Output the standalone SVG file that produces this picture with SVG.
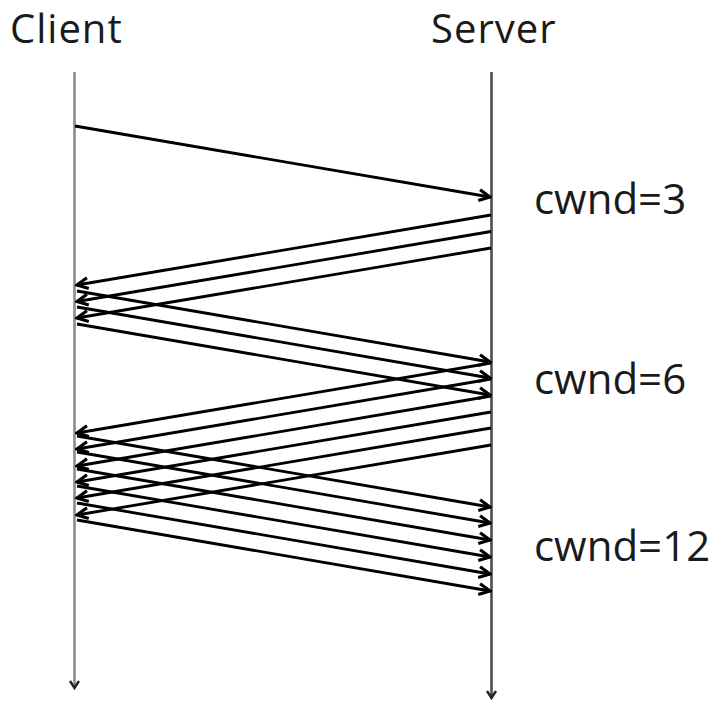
<svg xmlns="http://www.w3.org/2000/svg" width="716" height="701" viewBox="0 0 716 701">
  <style>
    .label { font-family: "Open Sans", "Liberation Sans", sans-serif; font-size: 40px; fill: #1a1a1a; }
    .title { letter-spacing: 1px; }
    .cwnd { font-size: 42px; }
    .msg { stroke: #000; stroke-width: 2.8; fill: none; marker-end: url(#head); }
    .life-client { stroke: #8c8c8c; stroke-width: 2.6; fill: none; marker-end: url(#lifehead); }
    .life-server { stroke: #4d4d4d; stroke-width: 2.6; fill: none; marker-end: url(#lifehead); }
  </style>
  <defs>
    <marker id="head" viewBox="-14 -8 16 16" markerWidth="16" markerHeight="16" refX="0" refY="0" orient="auto" markerUnits="userSpaceOnUse">
      <path d="M-11,-5.5 L0,0 L-11,5.5" fill="none" stroke="#000" stroke-width="3.2" stroke-linejoin="miter"/>
    </marker>
    <marker id="lifehead" viewBox="-10 -6 12 12" markerWidth="12" markerHeight="12" refX="0" refY="0" orient="auto" markerUnits="userSpaceOnUse">
      <path d="M-7,-4.5 L0,0 L-7,4.5" fill="none" stroke="#222" stroke-width="2.4"/>
    </marker>
  </defs>

  <rect width="716" height="701" fill="#fff"/>

  <!-- Client lifeline -->
  <g id="client">
    <text class="label title" x="10" y="43">Client</text>
    <line class="life-client" x1="74.5" y1="72" x2="74.5" y2="688"/>
  </g>

  <!-- Server lifeline -->
  <g id="server">
    <text class="label title" x="431" y="43">Server</text>
    <line class="life-server" x1="491.5" y1="72" x2="491.5" y2="698"/>
  </g>

  <!-- Congestion window annotations -->
  <g id="cwnd-labels">
    <text class="label cwnd" x="534" y="214">cwnd=3</text>
    <text class="label cwnd" x="534" y="394">cwnd=6</text>
    <text class="label cwnd" x="534" y="561">cwnd=12</text>
  </g>

  <!-- Messages -->
  <g id="connectors">
    <!-- request -->
    <line class="msg" x1="75" y1="126" x2="490" y2="197"/>

    <!-- first flight: 3 segments -->
    <line class="msg" x1="491" y1="215" x2="77" y2="285"/>
    <line class="msg" x1="491" y1="231.5" x2="77" y2="301.5"/>
    <line class="msg" x1="491" y1="248" x2="77" y2="318"/>

    <!-- acks for first flight -->
    <line class="msg" x1="77" y1="291" x2="490" y2="362"/>
    <line class="msg" x1="77" y1="307" x2="490" y2="378"/>
    <line class="msg" x1="77" y1="324" x2="490" y2="395"/>

    <!-- second flight: 6 segments -->
    <line class="msg" x1="491" y1="363" x2="77" y2="433"/>
    <line class="msg" x1="491" y1="379" x2="77" y2="449"/>
    <line class="msg" x1="491" y1="396" x2="77" y2="466"/>
    <line class="msg" x1="491" y1="412" x2="77" y2="482"/>
    <line class="msg" x1="491" y1="428" x2="77" y2="498"/>
    <line class="msg" x1="491" y1="445" x2="77" y2="515"/>

    <!-- acks for second flight -->
    <line class="msg" x1="77" y1="436" x2="490" y2="507"/>
    <line class="msg" x1="77" y1="452" x2="490" y2="523"/>
    <line class="msg" x1="77" y1="469" x2="490" y2="540"/>
    <line class="msg" x1="77" y1="486" x2="490" y2="557"/>
    <line class="msg" x1="77" y1="503" x2="490" y2="574"/>
    <line class="msg" x1="77" y1="520" x2="490" y2="591"/>
  </g>
</svg>
